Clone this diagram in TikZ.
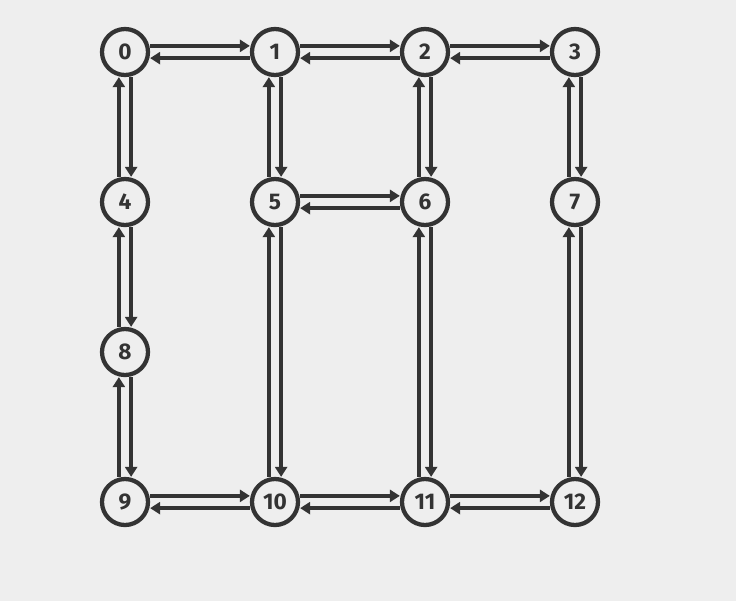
\documentclass[tikz,border=0pt]{standalone}
\usepackage{fontspec}
\newfontfamily\numfont{Fira Sans}
\usepackage{tikz}
\usetikzlibrary{arrows.meta,positioning,calc}
\usepackage{xcolor}
\definecolor{paper}{HTML}{EEEEEE}
\definecolor{ink}{HTML}{333333}

\begin{document}
\begin{tikzpicture}[x=0.75pt, y=-0.75pt,
    state/.style={draw=ink, circle, fill=paper, line width=3.2pt, minimum size=34.5pt, inner sep=0pt,
      text=ink, font=\numfont\bfseries\fontsize{17}{20}\selectfont},
    link/.style={draw=ink, line width=3.2pt, -{Triangle[length=7.5pt, width=9pt]}}]
            % Background
            \fill[paper] (0,0) rectangle (736,601);
            \useasboundingbox (0,0) rectangle (736,601);
            \def\off{4.6pt}

            % Top row
            \node[state] (n0) at (125,52) {0};
            \node[state] (n1) at (275,52) {1};
            \node[state] (n2) at (425,52) {2};
            \node[state] (n3) at (575,52) {3};

            % Second row
            \node[state] (n4) at (125,202) {4};
            \node[state] (n5) at (275,202) {5};
            \node[state] (n6) at (425,202) {6};
            \node[state] (n7) at (575,202) {7};

            % Third row
            \node[state] (n8) at (125,352) {8};

            % Bottom row
            \node[state] (n9) at (125,502) {9};
            \node[state] (n10) at (275,502) {10};
            \node[state] (n11) at (425,502) {11};
            \node[state] (n12) at (575,502) {12};

            % Horizontal links (top row)
            \draw[link] ([yshift=\off]n0.east) -- ([yshift=\off]n1.west);
            \draw[link] ([yshift=-\off]n1.west) -- ([yshift=-\off]n0.east);
            \draw[link] ([yshift=\off]n1.east) -- ([yshift=\off]n2.west);
            \draw[link] ([yshift=-\off]n2.west) -- ([yshift=-\off]n1.east);
            \draw[link] ([yshift=\off]n2.east) -- ([yshift=\off]n3.west);
            \draw[link] ([yshift=-\off]n3.west) -- ([yshift=-\off]n2.east);

            % Horizontal links (middle)
            \draw[link] ([yshift=\off]n5.east) -- ([yshift=\off]n6.west);
            \draw[link] ([yshift=-\off]n6.west) -- ([yshift=-\off]n5.east);

            % Horizontal links (bottom row)
            \draw[link] ([yshift=\off]n9.east) -- ([yshift=\off]n10.west);
            \draw[link] ([yshift=-\off]n10.west) -- ([yshift=-\off]n9.east);
            \draw[link] ([yshift=\off]n10.east) -- ([yshift=\off]n11.west);
            \draw[link] ([yshift=-\off]n11.west) -- ([yshift=-\off]n10.east);
            \draw[link] ([yshift=\off]n11.east) -- ([yshift=\off]n12.west);
            \draw[link] ([yshift=-\off]n12.west) -- ([yshift=-\off]n11.east);

            % Vertical links (left column)
            \draw[link] ([xshift=\off]n0.south) -- ([xshift=\off]n4.north);
            \draw[link] ([xshift=-\off]n4.north) -- ([xshift=-\off]n0.south);
            \draw[link] ([xshift=\off]n4.south) -- ([xshift=\off]n8.north);
            \draw[link] ([xshift=-\off]n8.north) -- ([xshift=-\off]n4.south);
            \draw[link] ([xshift=\off]n8.south) -- ([xshift=\off]n9.north);
            \draw[link] ([xshift=-\off]n9.north) -- ([xshift=-\off]n8.south);

            % Vertical links (second column)
            \draw[link] ([xshift=\off]n1.south) -- ([xshift=\off]n5.north);
            \draw[link] ([xshift=-\off]n5.north) -- ([xshift=-\off]n1.south);
            \draw[link] ([xshift=\off]n5.south) -- ([xshift=\off]n10.north);
            \draw[link] ([xshift=-\off]n10.north) -- ([xshift=-\off]n5.south);

            % Vertical links (third column)
            \draw[link] ([xshift=\off]n2.south) -- ([xshift=\off]n6.north);
            \draw[link] ([xshift=-\off]n6.north) -- ([xshift=-\off]n2.south);
            \draw[link] ([xshift=\off]n6.south) -- ([xshift=\off]n11.north);
            \draw[link] ([xshift=-\off]n11.north) -- ([xshift=-\off]n6.south);

            % Vertical links (right column)
            \draw[link] ([xshift=\off]n3.south) -- ([xshift=\off]n7.north);
            \draw[link] ([xshift=-\off]n7.north) -- ([xshift=-\off]n3.south);
            \draw[link] ([xshift=\off]n7.south) -- ([xshift=\off]n12.north);
            \draw[link] ([xshift=-\off]n12.north) -- ([xshift=-\off]n7.south);
\end{tikzpicture}
\end{document}
